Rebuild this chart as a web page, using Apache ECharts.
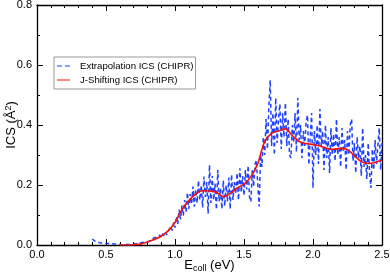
<!DOCTYPE html>
<html>
<head>
<meta charset="utf-8">
<script src="https://cdn.jsdelivr.net/npm/echarts@6/dist/echarts.min.js"></script>
<style>html,body{margin:0;padding:0;background:#fff}#c{width:390px;height:275px}</style>
</head>
<body>
<div id="c"></div>
<script>
// Tick labels
const xTicks = ["0.0", "0.5", "1.0", "1.5", "2.0", "2.5"];
const yTicks = ["0.0", "0.2", "0.4", "0.6", "0.8"];

// Series names
const seriesNames = ["Extrapolation ICS (CHIPR)", "J-Shifting ICS (CHIPR)"];

// Extrapolation ICS: energies 0.40 .. 2.50 eV step 0.01
const blueStart = 0.40;
const blueStep = 0.01;
const blueValues = [
  0.020, 0.016, 0.013, 0.011, 0.010, 0.008, 0.007, 0.008, 0.006, 0.005, 0.005,
  0.004, 0.005, 0.003, 0.004, 0.002, 0.003, 0.004, 0.002, 0.003, 0.002,
  0.003, 0.001, 0.002, 0.003, 0.001, 0.002, 0.003, 0.002, 0.004, 0.003,
  0.005, 0.004, 0.007, 0.006, 0.009,
  0.008, 0.012, 0.010, 0.014, 0.011, 0.017, 0.013, 0.020, 0.016, 0.024,
  0.020, 0.027, 0.022, 0.033, 0.026, 0.038, 0.030, 0.042, 0.034, 0.046,
  0.040, 0.062, 0.048, 0.075, 0.058, 0.095, 0.070, 0.118, 0.085, 0.132,
  0.098, 0.150, 0.110, 0.175, 0.120, 0.170, 0.135, 0.195, 0.128, 0.185,
  0.140, 0.215, 0.150, 0.200, 0.125, 0.228, 0.160, 0.210, 0.105, 0.267,
  0.140, 0.230, 0.150, 0.205, 0.118, 0.250, 0.145, 0.190, 0.120, 0.215,
  0.130, 0.200, 0.145, 0.225, 0.120, 0.235, 0.150, 0.210, 0.170, 0.240,
  0.150, 0.256, 0.175, 0.230, 0.165, 0.250, 0.185, 0.265, 0.160, 0.144,
  0.250, 0.195, 0.270, 0.283, 0.200, 0.128, 0.300, 0.260, 0.360, 0.300,
  0.420, 0.320, 0.460, 0.550, 0.330, 0.440, 0.300, 0.490, 0.340, 0.420,
  0.470, 0.320, 0.440, 0.360, 0.474, 0.330, 0.420, 0.300, 0.290, 0.400,
  0.340, 0.440, 0.310, 0.490, 0.350, 0.400, 0.290, 0.380, 0.330, 0.410,
  0.433, 0.267, 0.360, 0.440, 0.190, 0.380, 0.300, 0.400, 0.270, 0.453,
  0.330, 0.380, 0.250, 0.400, 0.290, 0.360, 0.240, 0.390, 0.300, 0.370,
  0.280, 0.420, 0.300, 0.360, 0.260, 0.390, 0.310, 0.350, 0.250, 0.380,
  0.300, 0.400, 0.420, 0.280, 0.340, 0.240, 0.360, 0.290, 0.330, 0.230,
  0.390, 0.260, 0.300, 0.220, 0.340, 0.240, 0.190, 0.320, 0.250, 0.350,
  0.270, 0.330, 0.390, 0.250, 0.340
];

// J-Shifting ICS
const redX = [0.60, 0.65, 0.70, 0.75, 0.80, 0.85, 0.90, 0.95, 1.00, 1.05, 1.10, 1.15, 1.20, 1.25, 1.30, 1.35, 1.40, 1.45, 1.50, 1.55, 1.60, 1.65, 1.70, 1.75, 1.80, 1.85, 1.90, 1.95, 2.00, 2.05, 2.10, 2.15, 2.20, 2.25, 2.30, 2.35, 2.40, 2.45, 2.50];
const redY = [0.000, 0.000, 0.001, 0.003, 0.010, 0.018, 0.030, 0.047, 0.075, 0.118, 0.148, 0.170, 0.181, 0.180, 0.176, 0.161, 0.172, 0.190, 0.203, 0.228, 0.272, 0.345, 0.372, 0.380, 0.387, 0.365, 0.345, 0.338, 0.335, 0.330, 0.322, 0.319, 0.322, 0.318, 0.298, 0.278, 0.272, 0.275, 0.283];

const blueData = blueValues.map((v, i) => [+(blueStart + i * blueStep).toFixed(2), v]);
const redData = redX.map((x, i) => [x, redY[i]]);

const FONT = "Liberation Sans, Arial, sans-serif";
const BLUE = '#1f40ff';
const RED = '#ee1111';
const chart = echarts.init(document.getElementById('c'), null, {renderer: 'canvas'});

const axisLineStyle = {show: true, onZero: false, lineStyle: {color: '#000', width: 1.3}};
const xBase = {
  type: 'value', min: 0, max: 2.5, interval: 0.5,
  axisLine: axisLineStyle,
  axisTick: {show: true, inside: true, length: 6, lineStyle: {color: '#000'}},
  minorTick: {show: true, splitNumber: 5, length: 3, lineStyle: {color: '#000'}},
  splitLine: {show: false}, minorSplitLine: {show: false}
};
const yBase = {
  type: 'value', min: 0, max: 0.8, interval: 0.2,
  axisLine: axisLineStyle,
  axisTick: {show: true, inside: true, length: 6, lineStyle: {color: '#000'}},
  minorTick: {show: true, splitNumber: 2, length: 3, lineStyle: {color: '#000'}},
  splitLine: {show: false}, minorSplitLine: {show: false}
};

chart.setOption({
  animation: false,
  backgroundColor: '#fff',
  grid: {left: 37, right: 8, top: 5, bottom: 30, containLabel: false, outerBoundsMode: 'none'},
  legend: {
    left: 54, top: 57,
    orient: 'vertical',
    data: [
      {name: seriesNames[0], icon: 'path://M0,0h5v1h-5z M8,0h5v1h-5z', itemStyle: {color: BLUE}},
      {name: seriesNames[1], icon: 'path://M0,0h13v1h-13z', itemStyle: {color: RED}}
    ],
    itemWidth: 13, itemHeight: 1.6, itemGap: 4,
    borderColor: '#999', borderWidth: 1, borderRadius: 0,
    padding: [4, 2, 4, 3],
    textStyle: {fontFamily: FONT, fontSize: 9.6, color: '#000', padding: [0, 0, 0, 5], lineHeight: 10}
  },
  xAxis: [
    Object.assign({}, xBase, {
      position: 'bottom',
      axisLabel: {show: true, fontFamily: FONT, fontSize: 11, color: '#000', margin: 4,
        formatter: v => xTicks[Math.round(v / 0.5)] || ''},
      name: '{b|E}{s|coll}{b| (eV)}',
      nameLocation: 'middle', nameGap: 13, nameMoveOverlap: false,
      nameTextStyle: {rich: {
        b: {fontFamily: FONT, fontSize: 13, color: '#000'},
        s: {fontFamily: FONT, fontSize: 9, color: '#000', verticalAlign: 'bottom', padding: [6, 0, 0, 0]}
      }}
    }),
    Object.assign({}, xBase, {position: 'top', axisLabel: {show: false}})
  ],
  yAxis: [
    Object.assign({}, yBase, {
      position: 'left',
      axisLabel: {show: true, fontFamily: FONT, fontSize: 11, color: '#000', margin: 5,
        formatter: v => yTicks[Math.round(v / 0.2)] || ''},
      name: '{b|ICS (Å}{p|2}{b|)}',
      nameLocation: 'middle', nameGap: 18, nameRotate: 90, nameMoveOverlap: false,
      nameTextStyle: {rich: {
        b: {fontFamily: FONT, fontSize: 13, color: '#000'},
        p: {fontFamily: FONT, fontSize: 9, color: '#000', verticalAlign: 'top', padding: [0, 0, 6, 0]}
      }}
    }),
    Object.assign({}, yBase, {position: 'right', axisLabel: {show: false}})
  ],
  series: [
    {
      name: seriesNames[0], type: 'line', data: blueData,
      xAxisIndex: 0, yAxisIndex: 0,
      symbol: 'none', showSymbol: false,
      lineStyle: {color: BLUE, width: 1.5, type: [4, 3]},
      itemStyle: {color: BLUE},
      z: 2
    },
    {
      name: seriesNames[1], type: 'line', data: redData,
      xAxisIndex: 0, yAxisIndex: 0,
      symbol: 'none', showSymbol: false, smooth: 0.3,
      lineStyle: {color: RED, width: 1.6},
      itemStyle: {color: RED},
      z: 3
    }
  ]
});
</script>
</body>
</html>
